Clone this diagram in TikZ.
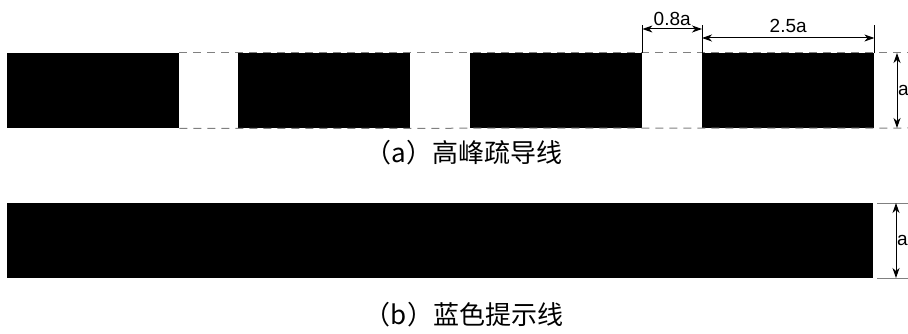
\documentclass[tikz,border=0pt]{standalone}
\usepackage{fontspec}
\usetikzlibrary{arrows.meta}
\setmainfont{Liberation Sans}
\newfontfamily\cjk{Noto Sans CJK SC}
\begin{document}
\begin{tikzpicture}[x=1pt,y=-1pt,
  blk/.style={fill=black, inner sep=0pt, minimum height=75pt, anchor=north west},
  guide/.style={gray, dash pattern=on 8pt off 6pt, line width=1pt},
  dim/.style={black, line width=1pt, <->, >={Stealth[length=10pt,width=7pt,inset=3pt]}},
  lbl/.style={font=\fontsize{19}{19}\selectfont, inner sep=1pt},
  captxt/.style={font=\cjk\fontsize{26}{26}\selectfont}]
  \useasboundingbox (0,0) rectangle (908,334);
  % (a) four blocks with gaps
  \foreach \x [count=\i] in {7,238,470,702}
    \node[blk, minimum width=172pt] (top\i) at (\x,53) {};
  \coordinate (tr) at (908,53);
  \coordinate (br) at (908,128);
  \draw[guide] (top1.north east) -- (tr);
  \draw[guide] (top1.south east) -- (br);
  % dimension lines
  \coordinate (ya) at (0,25);
  \coordinate (yb) at (0,29);
  \coordinate (yc) at (0,38);
  \draw[line width=1pt] (top3.north east) -- (top3.north east |- ya);
  \draw[line width=1pt] (top4.north west) -- (top4.north west |- ya);
  \draw[line width=1pt] (top4.north east) -- (top4.north east |- ya);
  \draw[dim] (top3.north east |- yb) -- (top4.north west |- yb) node[lbl, midway, above=2pt] {0.8a};
  \draw[dim] (top4.north west |- yc) -- (top4.north east |- yc) node[lbl, midway, above=4pt] {2.5a};
  \coordinate (va) at (897,53);
  \coordinate (vb) at (897,128);
  \draw[dim] (va) -- (vb) node[lbl, midway, right=0pt, inner sep=0.5pt] {a};
  \node[captxt] (capa) at (464,153) {（a）高峰疏导线};
  % (b) one long block
  \node[blk, minimum width=866pt] (bot) at (7,203) {};
  \coordinate (et) at (877,203);
  \coordinate (eb) at (877,278);
  \draw[line width=1pt, gray] (et) -- (et -| tr);
  \draw[line width=1pt, gray] (eb) -- (eb -| tr);
  \coordinate (wa) at (896,203);
  \coordinate (wb) at (896,278);
  \draw[dim] (wa) -- (wb) node[lbl, midway, right=0pt, inner sep=0.5pt] {a};
  \node[captxt] (capb) at (464,315) {（b）蓝色提示线};
\end{tikzpicture}
\end{document}
